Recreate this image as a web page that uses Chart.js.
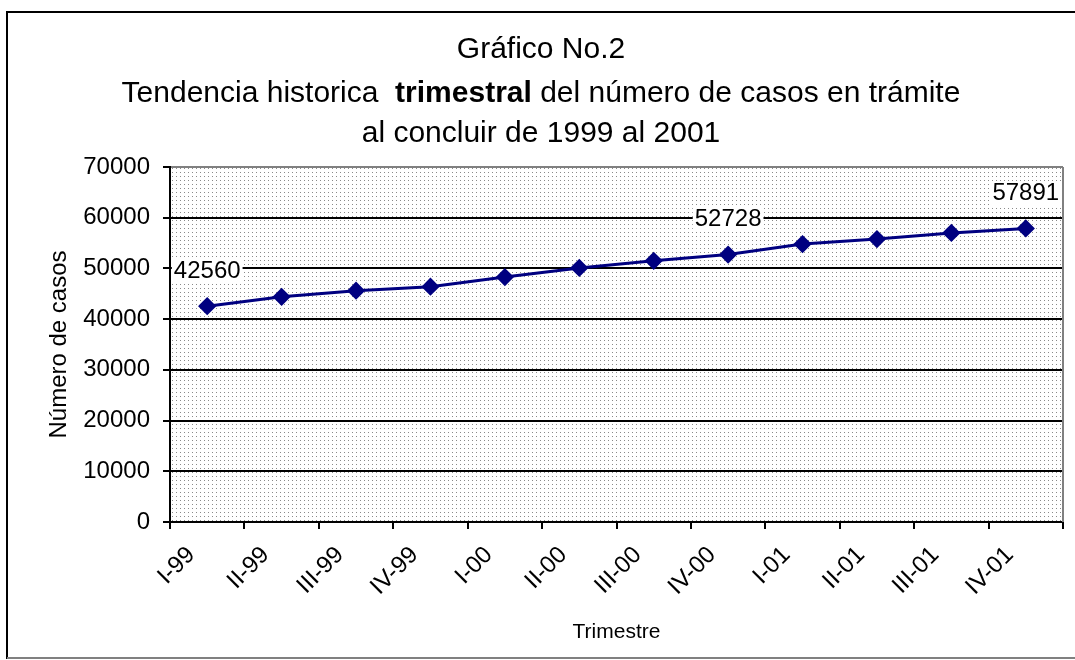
<!DOCTYPE html>
<html>
<head>
<meta charset="utf-8">
<script src="https://cdn.jsdelivr.net/npm/chart.js@4.4.0/dist/chart.umd.min.js"></script>
<style>
  body { margin: 0; background: #fff; }
  #wrap { width: 1075px; height: 660px; }
</style>
</head>
<body>
<div id="wrap"><canvas id="myChart"></canvas></div>
<script>
const trimestres = ["I-99", "II-99", "III-99", "IV-99", "I-00", "II-00", "III-00", "IV-00", "I-01", "II-01", "III-01", "IV-01"];
const casos = [42560, 44400, 45600, 46400, 48300, 50100, 51500, 52728, 54800, 55800, 57000, 57891];
const etiquetados = [0, 7, 11];
const yMin = 0;
const yMax = 70000;
const yPaso = 10000;
const titulo1 = "Gráfico No.2";
const titulo2 = ["Tendencia historica  ", "trimestral", " del número de casos en trámite"];
const titulo3 = "al concluir de 1999 al 2001";
const tituloY = "Número de casos";
const tituloX = "Trimestre";

const fuente = '"Liberation Sans", Arial, sans-serif';

// patron de puntos del fondo
function crearPatron(ctx) {
    const c = document.createElement("canvas");
    c.width = 4;
    c.height = 4;
    const p = c.getContext("2d");
    p.fillStyle = "#fff";
    p.fillRect(0, 0, 4, 4);
    p.fillStyle = "#8a8a8a";
    p.fillRect(0, 0, 1, 1);
    return ctx.createPattern(c, "repeat");
}

const fondoPlugin = {
    id: "fondo",
    beforeDraw(chart) {
        const { ctx, chartArea } = chart;
        ctx.save();
        ctx.fillStyle = "#fff";
        ctx.fillRect(0, 0, chart.width, chart.height);
        ctx.fillStyle = crearPatron(ctx);
        ctx.fillRect(chartArea.left, chartArea.top, chartArea.right - chartArea.left, chartArea.bottom - chartArea.top);
        ctx.restore();
    },
    afterDraw(chart) {
        const { ctx, chartArea } = chart;
        ctx.save();
        // borde derecho del area del grafico
        ctx.strokeStyle = "#808080";
        ctx.lineWidth = 2;
        ctx.beginPath();
        ctx.moveTo(chartArea.right, chartArea.top);
        ctx.lineTo(chartArea.right, chartArea.bottom);
        ctx.stroke();
        // marco exterior
        ctx.strokeStyle = "#000";
        ctx.beginPath();
        ctx.moveTo(7, 659);
        ctx.lineTo(7, 12);
        ctx.lineTo(1075, 12);
        ctx.stroke();
        ctx.strokeStyle = "#808080";
        ctx.beginPath();
        ctx.moveTo(7, 658);
        ctx.lineTo(1075, 658);
        ctx.stroke();
        ctx.restore();
    }
};

const tituloPlugin = {
    id: "titulo",
    afterDraw(chart) {
        const ctx = chart.ctx;
        const cx = 541;
        ctx.save();
        ctx.fillStyle = "#000";
        ctx.textBaseline = "alphabetic";
        ctx.textAlign = "center";
        ctx.font = "30px " + fuente;
        ctx.fillText(titulo1, cx, 58);
        ctx.fillText(titulo3, cx, 142);
        // linea con parte en negrita
        const fuentes = ["30px " + fuente, "bold 30px " + fuente, "30px " + fuente];
        let total = 0;
        const anchos = titulo2.map((t, i) => {
            ctx.font = fuentes[i];
            const w = ctx.measureText(t).width;
            total += w;
            return w;
        });
        let x = cx - total / 2;
        ctx.textAlign = "left";
        titulo2.forEach((t, i) => {
            ctx.font = fuentes[i];
            ctx.fillText(t, x, 102);
            x += anchos[i];
        });
        ctx.restore();
    }
};

const etiquetasPlugin = {
    id: "etiquetas",
    afterDatasetsDraw(chart) {
        const meta = chart.getDatasetMeta(0);
        const ctx = chart.ctx;
        ctx.save();
        ctx.font = "24px " + fuente;
        ctx.textAlign = "center";
        ctx.textBaseline = "middle";
        etiquetados.forEach((i) => {
            const p = meta.data[i];
            const txt = String(casos[i]);
            const w = ctx.measureText(txt).width;
            ctx.fillStyle = "#fff";
            ctx.fillRect(p.x - w / 2 - 2, p.y - 35 - 12, w + 4, 24);
            ctx.fillStyle = "#000";
            ctx.fillText(txt, p.x, p.y - 35);
        });
        ctx.restore();
    }
};

const data = {
    labels: trimestres,
    datasets: [{
        data: casos,
        borderColor: "#000080",
        backgroundColor: "#000080",
        borderWidth: 3,
        pointStyle: "rectRot",
        pointRadius: 7,
        pointHoverRadius: 7,
        tension: 0
    }]
};

const config = {
    type: "line",
    data,
    options: {
        responsive: true,
        maintainAspectRatio: false,
        animation: false,
        layout: { padding: { left: 45, right: 12, top: 167, bottom: 12 } },
        plugins: {
            legend: { display: false },
            tooltip: { enabled: false }
        },
        scales: {
            x: {
                offset: true,
                afterFit: (s) => { s.height = 126; },
                grid: {
                    offset: true,
                    drawOnChartArea: false,
                    color: "#000",
                    lineWidth: 2,
                    tickLength: 7
                },
                border: { color: "#000", width: 2 },
                ticks: {
                    color: "#000",
                    font: { family: fuente, size: 24 },
                    minRotation: 45,
                    maxRotation: 45,
                    padding: 12,
                    labelOffset: -16
                },
                title: {
                    display: true,
                    text: tituloX,
                    color: "#000",
                    font: { family: fuente, size: 21 },
                    padding: { top: 0, bottom: 3 }
                }
            },
            y: {
                min: yMin,
                max: yMax,
                afterFit: (s) => { s.width = 125; },
                grid: {
                    color: (c) => c.tick && c.tick.value === yMax ? "#808080" : "#000",
                    tickColor: "#000",
                    lineWidth: 2,
                    tickLength: 7
                },
                border: { color: "#000", width: 2 },
                ticks: {
                    stepSize: yPaso,
                    color: "#000",
                    font: { family: fuente, size: 24 },
                    padding: 13,
                    callback: (v) => String(v)
                },
                title: {
                    display: true,
                    text: tituloY,
                    color: "#000",
                    font: { family: fuente, size: 24 },
                    padding: { top: 0, bottom: 0 }
                }
            }
        }
    },
    plugins: [fondoPlugin, tituloPlugin, etiquetasPlugin]
};

new Chart(document.querySelector("#myChart"), config);
</script>
</body>
</html>
